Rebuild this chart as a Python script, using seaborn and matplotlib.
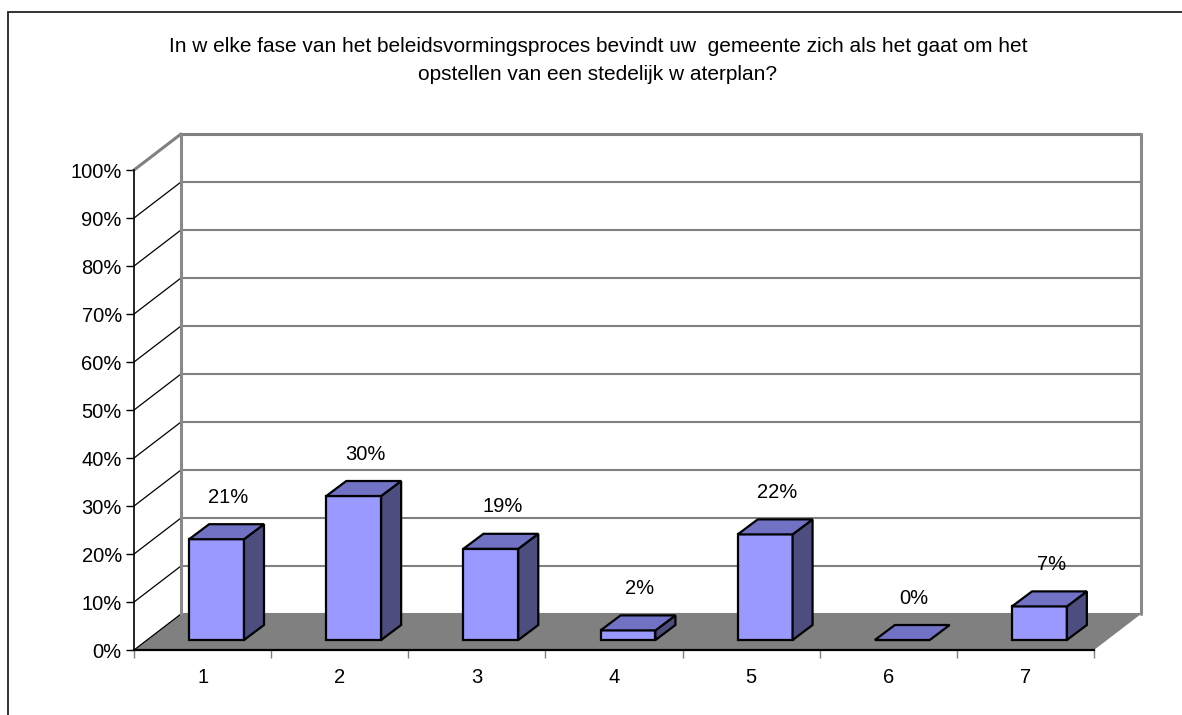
import matplotlib
matplotlib.use("Agg")
import matplotlib.pyplot as plt
import matplotlib.transforms as mtransforms
from matplotlib.patches import Polygon, Rectangle
from matplotlib.lines import Line2D
import numpy as np
import pandas as pd
import seaborn as sns

# ---- data ----
categories = ["1", "2", "3", "4", "5", "6", "7"]
percentages = [21, 30, 19, 2, 22, 0, 7]
y_ticks = [0, 10, 20, 30, 40, 50, 60, 70, 80, 90, 100]
title = ("In w elke fase van het beleidsvormingsproces bevindt uw  gemeente zich als het gaat om het\n"
         "opstellen van een stedelijk w aterplan?")

# ---- style ----
sns.set_theme(style="white")
plt.rcParams["font.family"] = ["Liberation Sans", "DejaVu Sans"]

W, H = 1182, 715
DPI = 100
FRONT = "#9999FF"
TOP = "#7272C4"
SIDE = "#4D4D80"
FLOOR = "#808080"
GRID = "#808080"
FS = 14.5

WALL_D = np.array([47.0, 36.0])   # depth of floor / walls (px)
BAR_OFF = np.array([14.0, 10.0])  # bar front face offset (px)
BAR_D = np.array([20.0, 15.0])    # bar depth (px)

fig = plt.figure(figsize=(W / DPI, H / DPI), dpi=DPI)
fig.patch.set_facecolor("white")
ax = fig.add_axes([134 / W, (H - 650) / H, 960 / W, 480 / H])
ax.patch.set_visible(False)

df = pd.DataFrame({"cat": categories, "pct": percentages})
sns.barplot(data=df, x="cat", y="pct", ax=ax, width=0.4, color=FRONT,
            saturation=1, edgecolor="black", linewidth=1.6, zorder=3)

ax.set_xlim(-0.5, len(categories) - 0.5)
ax.set_ylim(0, 100)
ax.set_xlabel("")
ax.set_ylabel("")

ident = mtransforms.IdentityTransform()
T = ax.transData
xl, xr = ax.get_xlim()

def P(x, y):
    return np.array(T.transform((x, y)))

# floor
floor_pts = [P(xl, 0), P(xr, 0), P(xr, 0) + WALL_D, P(xl, 0) + WALL_D]
ax.add_artist(Polygon(floor_pts, closed=True, facecolor=FLOOR, edgecolor="none",
                      transform=ident, clip_on=False, zorder=0.5))

# walls: back gridlines and side diagonals
for v in y_ticks:
    a = P(xl, v) + WALL_D
    b = P(xr, v) + WALL_D
    top = (v == y_ticks[-1])
    ax.add_artist(Line2D([a[0], b[0]], [a[1], b[1]], color=GRID,
                         lw=2.2 if top else 1.5, transform=ident,
                         clip_on=False, zorder=0.7))
    f = P(xl, v)
    ax.add_artist(Line2D([f[0], a[0]], [f[1], a[1]],
                         color=GRID if top else "black",
                         lw=2.2 if top else 0.9, transform=ident,
                         clip_on=False, zorder=0.7))
for xx in (xl, xr):
    a = P(xx, 0) + WALL_D
    b = P(xx, y_ticks[-1]) + WALL_D
    ax.add_artist(Line2D([a[0], b[0]], [a[1], b[1]], color="#8a8a8a", lw=2.2,
                         transform=ident, clip_on=False, zorder=0.7))

# bars: shift front faces, add top and side faces
front_tr = mtransforms.offset_copy(T, fig=fig, x=BAR_OFF[0], y=BAR_OFF[1], units="dots")
for patch in ax.patches:
    if not isinstance(patch, Rectangle):
        continue
    x0, w, h = patch.get_x(), patch.get_width(), patch.get_height()
    patch.set_transform(front_tr)
    patch.set_clip_on(False)
    patch.set_zorder(3)
    bl = P(x0, 0) + BAR_OFF
    br = P(x0 + w, 0) + BAR_OFF
    tr = P(x0 + w, h) + BAR_OFF
    tl = P(x0, h) + BAR_OFF
    side = [br, tr, tr + BAR_D, br + BAR_D]
    topf = [tl, tr, tr + BAR_D, tl + BAR_D]
    if h > 0:
        ax.add_artist(Polygon(side, closed=True, facecolor=SIDE, edgecolor="black",
                              lw=1.6, transform=ident, clip_on=False, zorder=3,
                              joinstyle="miter"))
    ax.add_artist(Polygon(topf, closed=True, facecolor=TOP, edgecolor="black",
                          lw=1.6, transform=ident, clip_on=False, zorder=3,
                          joinstyle="miter"))

# value labels
for i, v in enumerate(percentages):
    ax.annotate(f"{v}%", xy=(i, v), xytext=(26, 52), textcoords="offset pixels",
                ha="center", va="center", fontsize=FS, color="black",
                annotation_clip=False, zorder=5)

# axes / ticks
for s in ("top", "right"):
    ax.spines[s].set_visible(False)
ax.spines["left"].set_color("black")
ax.spines["bottom"].set_color("black")
ax.spines["left"].set_linewidth(1.2)
ax.spines["bottom"].set_linewidth(1.6)
ax.spines["left"].set_zorder(1)
ax.spines["bottom"].set_zorder(1)

ax.set_yticks(y_ticks)
ax.set_yticklabels([f"{v}%" for v in y_ticks])
ax.tick_params(axis="y", which="major", left=True, length=5.8, width=1.0,
               color="black", pad=3, labelsize=FS, labelcolor="black")
ax.set_xticks(range(len(categories)))
ax.set_xticklabels(categories)
ax.tick_params(axis="x", which="major", bottom=True, length=0, pad=13,
               labelsize=FS, labelcolor="black")
ax.set_xticks(np.arange(-0.5, len(categories), 1.0), minor=True)
ax.tick_params(axis="x", which="minor", bottom=True, length=6, width=1.0,
               color="#808080", direction="out")

# title
fig.text(598 / W, 1 - 60 / H, title, ha="center", va="center",
         multialignment="center", fontsize=15, linespacing=1.6, color="black")

# outer frame (only left & top visible in the original)
fig.add_artist(Rectangle((8, -20), 1300, H - 12 + 20, facecolor="none",
                         edgecolor="#222222", lw=1.3, transform=ident,
                         clip_on=False, zorder=10))

fig.savefig("out.png", dpi=DPI)
